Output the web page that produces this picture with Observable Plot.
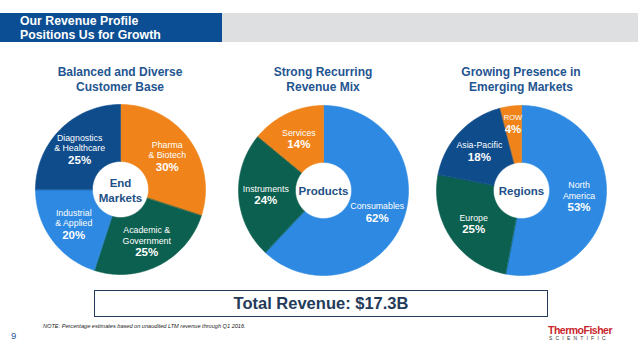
<!DOCTYPE html>
<html><head><meta charset="utf-8">
<script src="https://cdn.jsdelivr.net/npm/d3@7"></script>
<script src="https://cdn.jsdelivr.net/npm/@observablehq/plot@0.6"></script>
<style>
body{margin:0;background:#fff;font-family:"Liberation Sans",Arial,Helvetica,sans-serif;}
#page{position:relative;width:638px;height:359px;overflow:hidden;background:#fff;}
.abs{position:absolute;}
#hdrBlue{left:0;top:13px;width:222px;height:29px;background:#0C4E93;}
#hdrGrey{left:222px;top:13px;width:416px;height:29px;background:#DEDFE1;}
#hdrText{left:20px;top:14px;color:#fff;font-weight:bold;font-size:12.3px;line-height:14px;}
.title{width:200px;text-align:center;color:#1F5591;font-weight:bold;font-size:12px;line-height:15px;top:65px;}
#box{left:94px;top:290px;width:452px;height:25px;border:1.3px solid #243B5A;text-align:center;font-weight:bold;font-size:16.5px;line-height:25px;color:#243B5A;}
#note{left:43px;top:323px;font-style:italic;font-size:5.6px;color:#222;}
#pnum{left:11px;top:330px;font-size:9.5px;color:#1F5A9A;}
#logo1{left:548px;top:324px;font-weight:bold;font-size:10.5px;color:#C8252C;letter-spacing:-0.5px;}
#logo2{left:549px;top:335px;font-size:5px;color:#333;letter-spacing:3.2px;}
svg text{font-family:"Liberation Sans",Arial,Helvetica,sans-serif;}
</style></head><body>
<div id="page">
  <div id="hdrBlue" class="abs"></div>
  <div id="hdrGrey" class="abs"></div>
  <div id="hdrText" class="abs">Our Revenue Profile<br>Positions Us for Growth</div>
  <div id="box" class="abs">Total Revenue: $17.3B</div>
  <div id="note" class="abs">NOTE: Percentage estimates based on unaudited LTM revenue through Q1 2016.</div>
  <div id="pnum" class="abs">9</div>
  <div id="logo1" class="abs">ThermoFisher</div>
  <div id="logo2" class="abs">SCIENTIFIC</div>
</div>
<script>
// ---- Data ----
const chartTitles = ["Balanced and Diverse\nCustomer Base", "Strong Recurring\nRevenue Mix", "Growing Presence in\nEmerging Markets"];
const centerLabels = ["End\nMarkets", "Products", "Regions"];

const endMarketNames = ["Pharma\n& Biotech", "Academic &\nGovernment", "Industrial\n& Applied", "Diagnostics\n& Healthcare"];
const endMarketShares = [30, 25, 20, 25];

const productNames = ["Consumables", "Instruments", "Services"];
const productShares = [62, 24, 14];

const regionNames = ["North\nAmerica", "Europe", "Asia-Pacific", "ROW"];
const regionShares = [53, 25, 18, 4];

// ---- Palettes (styles) ----
const ORANGE = "#F0841A", GREEN = "#0C604F", LIGHT = "#2D89E1", NAVY = "#0E4C8C";
const endMarketColors = [ORANGE, GREEN, LIGHT, NAVY];
const productColors = [LIGHT, GREEN, ORANGE];
const regionColors = [LIGHT, GREEN, NAVY, ORANGE];

const centers = [[120, 189], [323, 190], [521, 190]];
const R = 85, INNER = 0.33;

function donut(names, shares, colors, centerLabel) {
  const total = d3.sum(shares);
  const pts = [], labels = [];
  let acc = 0;
  names.forEach((name, i) => {
    const a0 = acc / total * 2 * Math.PI;
    acc += shares[i];
    const a1 = acc / total * 2 * Math.PI;
    const n = Math.max(2, Math.ceil((a1 - a0) / (Math.PI / 180)));
    for (let j = 0; j <= n; j++) {
      const a = a0 + (a1 - a0) * j / n;
      pts.push({key: name, x: Math.sin(a), y: Math.cos(a)});
    }
    for (let j = n; j >= 0; j--) {
      const a = a0 + (a1 - a0) * j / n;
      pts.push({key: name, x: INNER * Math.sin(a), y: INNER * Math.cos(a)});
    }
    const m = (a0 + a1) / 2;
    const share = shares[i] / total;
    const small = share < 0.06;
    const lr = small ? 0.8 : 0.68;
    const lines = name.split("\n").length;
    const shiftPx = small ? 0 : (10.1 * lines - 9) / 2; // centre the label block on its anchor
    labels.push({name, pct: shares[i] + "%", x: lr * Math.sin(m), y: lr * Math.cos(m) - shiftPx / R, small});
  });
  return Plot.plot({
    width: 2 * R + 2, height: 2 * R + 2, margin: 1,
    x: {domain: [-1, 1], axis: null},
    y: {domain: [-1, 1], axis: null},
    color: {domain: names, range: colors},
    style: {background: "transparent", overflow: "visible"},
    marks: [
      Plot.line(pts, {x: "x", y: "y", z: "key", fill: "key", stroke: "key", strokeWidth: 0.6, curve: "linear-closed"}),
      Plot.text(labels, {x: "x", y: "y", text: "name", lineAnchor: "bottom", dy: -3, fill: "white", fontSize: d => d.small ? 7.5 : 8.8, lineHeight: 1.15}),
      Plot.text(labels, {x: "x", y: "y", text: "pct", lineAnchor: "top", dy: 1.5, fill: "white", fontWeight: "bold", fontSize: 11.5}),
      Plot.text([centerLabel], {text: d => d, frameAnchor: "middle", fill: "#1E4F86", fontWeight: "bold", fontSize: 11.5, lineHeight: 1.3})
    ]
  });
}

const page = document.getElementById("page");
const sets = [
  [endMarketNames, endMarketShares, endMarketColors],
  [productNames, productShares, productColors],
  [regionNames, regionShares, regionColors]
];
sets.forEach(([names, shares, colors], k) => {
  const [cx, cy] = centers[k];
  const holder = document.createElement("div");
  holder.className = "abs";
  holder.style.left = (cx - R - 1) + "px";
  holder.style.top = (cy - R - 1) + "px";
  holder.appendChild(donut(names, shares, colors, centerLabels[k]));
  page.appendChild(holder);
  const t = document.createElement("div");
  t.className = "abs title";
  t.style.left = (cx - 100) + "px";
  t.innerHTML = chartTitles[k].replace("\n", "<br>");
  page.appendChild(t);
});
</script>
</body></html>
